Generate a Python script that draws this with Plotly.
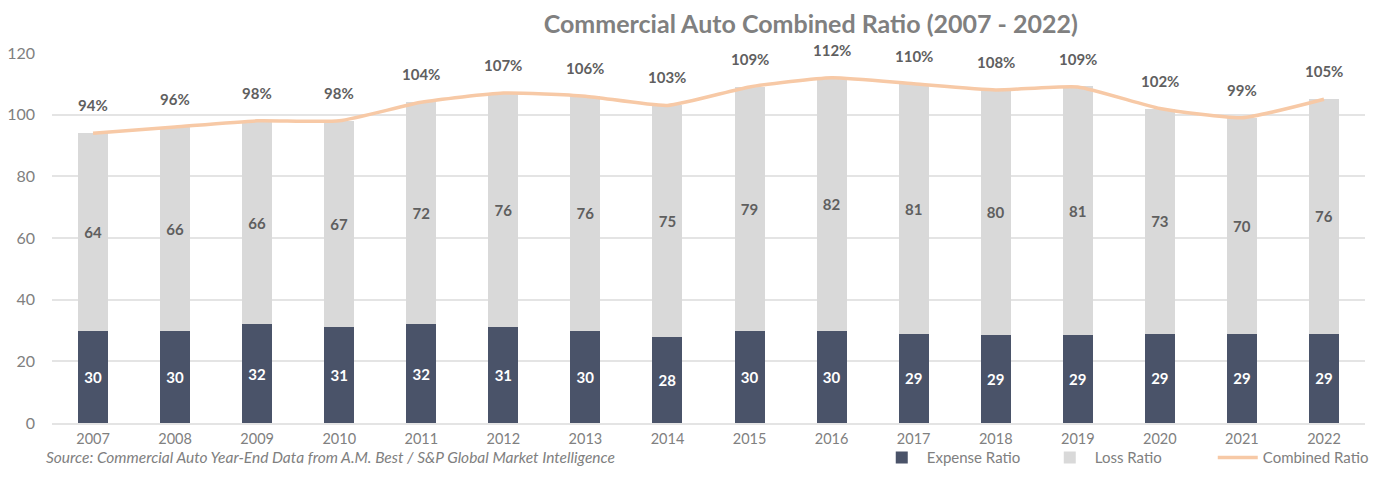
import plotly.graph_objects as go

# Commercial auto ratios, 2007-2022
YEARS = [str(y) for y in range(2007, 2023)]
EXPENSE_RATIO = [30, 30, 32, 31, 32, 31, 30, 28, 30, 30, 29, 28.6, 28.6, 29, 29, 29]
LOSS_RATIO = [64, 66, 66, 67, 72, 76, 76, 75, 79, 82, 81, 79.6, 80.6, 73, 70, 76]
COMBINED_RATIO = [94, 96, 98, 98, 104, 107, 106, 103, 109, 112, 110, 108, 109, 102, 99, 105]
Y_TICKS = [0, 20, 40, 60, 80, 100, 120]

COLORS = {
    'expense': '#4a5369',
    'loss': '#d9d9d9',
    'combined': '#f7c9a6',
    'text': '#808080',
    'label': '#5f5f5f',
    'grid': '#e4e4e4',
}
FONT_FAMILY = "Lato, 'Open Sans', sans-serif"

fig = go.Figure()

fig.add_trace(go.Bar(
    x=YEARS, y=EXPENSE_RATIO, name='Expense Ratio',
    marker=dict(color=COLORS['expense'], line_width=0),
    texttemplate='%{y:.0f}', textposition='inside', insidetextanchor='middle',
    textfont=dict(color='#ffffff', size=15, family=FONT_FAMILY, weight='bold'),
))
fig.add_trace(go.Bar(
    x=YEARS, y=LOSS_RATIO, name='Loss Ratio',
    marker=dict(color=COLORS['loss'], line_width=0),
    texttemplate='%{y:.0f}', textposition='inside', insidetextanchor='middle',
    textfont=dict(color=COLORS['label'], size=15, family=FONT_FAMILY, weight='bold'),
))
fig.add_trace(go.Scatter(
    x=YEARS, y=COMBINED_RATIO, name='Combined Ratio', mode='lines',
    line=dict(color=COLORS['combined'], width=3.5, shape='spline', smoothing=0.5),
))

# Combined ratio labels above the line (category index positions)
for i, val in enumerate(COMBINED_RATIO):
    fig.add_annotation(
        x=i, y=val, text=f'{val}%', showarrow=False, yshift=28,
        font=dict(color=COLORS['label'], size=15, family=FONT_FAMILY, weight='bold'),
    )

# Source note
fig.add_annotation(
    xref='paper', yref='paper', x=-0.006, y=-0.092, xanchor='left', yanchor='middle',
    text='<i>Source: Commercial Auto Year-End Data from A.M. Best / S&P Global Market Intelligence</i>',
    showarrow=False, font=dict(color=COLORS['text'], size=15.5, family=FONT_FAMILY),
)

fig.update_layout(
    width=1377, height=481,
    barmode='stack', bargap=0.634,
    paper_bgcolor='white', plot_bgcolor='white',
    font=dict(family=FONT_FAMILY, color=COLORS['text'], size=15),
    title=dict(
        text='Commercial Auto Combined Ratio (2007 - 2022)',
        font=dict(size=25, color=COLORS['text'], family=FONT_FAMILY, weight='bold'),
        x=0.583, xanchor='center', y=0.966, yanchor='middle', xref='container',
    ),
    xaxis=dict(type='category', range=[-0.5, len(YEARS) - 0.5], showgrid=False,
               showline=True, linecolor=COLORS['grid'], linewidth=1.5, ticks='',
               ticklen=0, ticklabelstandoff=2, automargin=False,
               tickfont=dict(size=14.5, color=COLORS['text'])),
    yaxis=dict(range=[0, 120], tickvals=Y_TICKS, showgrid=True, gridcolor=COLORS['grid'],
               gridwidth=1.5, zeroline=False, showline=False, ticks='',
               ticklabelstandoff=16, automargin=False,
               tickfont=dict(size=16, color=COLORS['text'])),
    legend=dict(orientation='h', x=1.012, xanchor='right', y=-0.094, yanchor='middle',
                font=dict(size=15, color=COLORS['text']), traceorder='normal',
                bgcolor='rgba(0,0,0,0)', entrywidth=113, itemwidth=40),
    margin=dict(l=44, r=20, t=45, b=66, autoexpand=False),
    showlegend=True,
)

fig.write_html("out.html")
